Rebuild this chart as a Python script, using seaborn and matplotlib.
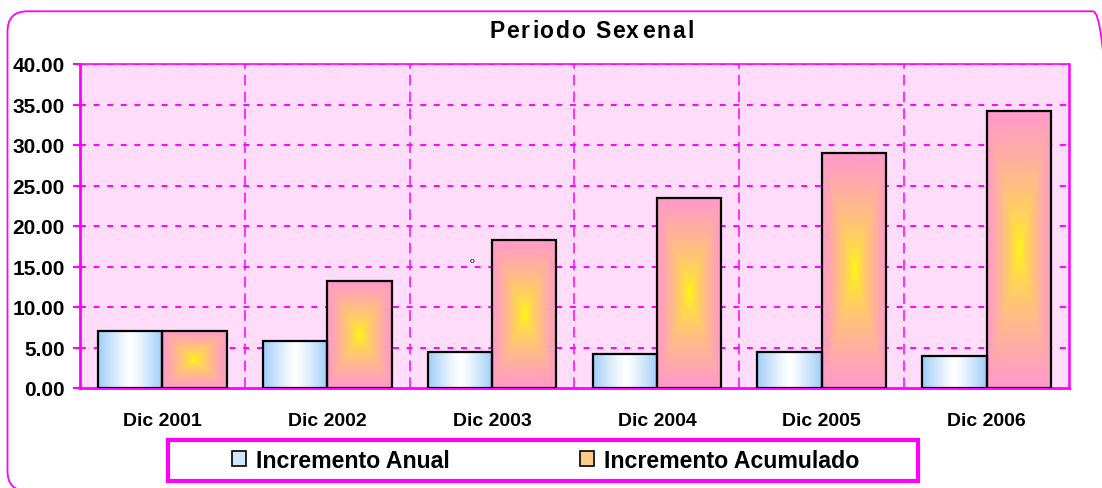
import numpy as np
import pandas as pd
import matplotlib
matplotlib.use("Agg")
import matplotlib.pyplot as plt
import seaborn as sns
from matplotlib.patches import FancyBboxPatch, Patch, Rectangle
from matplotlib.ticker import FixedLocator
from matplotlib.font_manager import FontProperties, findfont
from matplotlib.ft2font import FT2Font

# data
periodos = ["Dic 2001", "Dic 2002", "Dic 2003", "Dic 2004", "Dic 2005", "Dic 2006"]
incremento_anual = [7.05, 5.80, 4.45, 4.20, 4.40, 3.95]
incremento_acumulado = [7.05, 13.25, 18.30, 23.50, 29.05, 34.15]
series = ["Incremento Anual", "Incremento Acumulado"]
y_ticks = [0, 5, 10, 15, 20, 25, 30, 35, 40]
titulo = "Periodo Sexenal"

MAGENTA = "#FF00FF"
BG = "#FFDDFA"
BLUE = np.array([160, 205, 250]) / 255
WHITE = np.array([255, 255, 255]) / 255
PINK = np.array([255, 153, 204]) / 255
YELLOW = np.array([255, 255, 0]) / 255

sns.set_theme(style="white")
plt.rcParams["font.family"] = ["Liberation Sans", "DejaVu Sans"]
plt.rcParams["text.color"] = "black"
plt.rcParams["xtick.color"] = "black"
plt.rcParams["ytick.color"] = "black"

df = pd.DataFrame({
    "Periodo": periodos * 2,
    "Serie": [series[0]] * len(periodos) + [series[1]] * len(periodos),
    "Valor": incremento_anual + incremento_acumulado,
})

W, H = 1102, 489
fig = plt.figure(figsize=(W / 100, H / 100), dpi=100)
ax = fig.add_axes([80 / W, 1 - 389 / H, 989 / W, 324 / H])
ax.set_facecolor(BG)

sns.barplot(data=df, x="Periodo", y="Valor", hue="Serie", hue_order=series,
            palette=["#0000ff", "#ff0000"], width=0.78, gap=0, legend=False,
            edgecolor="black", linewidth=1.6, ax=ax, zorder=3)


def gradient_anual(n=64):
    t = np.linspace(0, 1, n)
    d = np.abs(2 * t - 1) ** 1.2
    row = WHITE[None, :] * (1 - d[:, None]) + BLUE[None, :] * d[:, None]
    return np.tile(row[None, :, :], (4, 1, 1))


def gradient_acum(n=200):
    u = np.linspace(-1, 1, n)
    U, V = np.meshgrid(u, u)
    d = np.maximum(np.abs(U), np.abs(V)) ** 0.6
    return YELLOW * (1 - d[..., None]) + PINK * d[..., None]


for p in ax.patches:
    x0, y0 = p.get_x(), p.get_y()
    w, h = p.get_width(), p.get_height()
    fc = p.get_facecolor()
    img = gradient_anual() if fc[2] > 0.5 else gradient_acum()
    im = ax.imshow(img, extent=[x0, x0 + w, y0, y0 + h], aspect="auto",
                   origin="lower", zorder=2.5, interpolation="bilinear")
    im.set_clip_path(p)
    p.set_facecolor("none")

ax.set_xlim(-0.5, len(periodos) - 0.5)
ax.set_ylim(0, 40)
ax.set_yticks(y_ticks)
ax.set_yticklabels([f"{v:.2f}" for v in y_ticks], fontsize=15, fontweight="bold")
ax.set_xticks(range(len(periodos)))
ax.set_xticklabels(periodos, fontsize=14, fontweight="bold")
ax.xaxis.set_minor_locator(FixedLocator(np.arange(-0.5, len(periodos), 1)))
ax.tick_params(axis="x", which="major", length=0, pad=17)
ax.tick_params(axis="x", which="minor", length=7, color=MAGENTA, width=1.2, direction="out")
ax.tick_params(axis="y", length=5, color=MAGENTA, width=1.5, left=True, pad=6)
ax.set_xlabel("")
ax.set_ylabel("")

for v in y_ticks[1:]:
    ax.axhline(v, color=MAGENTA, lw=1.4, ls=(0, (3, 4)), zorder=1)
for b in np.arange(0.5, len(periodos) - 1, 1):
    ax.axvline(b, color=MAGENTA, lw=1.1, ls=(0, (7, 4)), zorder=1)

for side in ["left", "bottom", "right", "top"]:
    ax.spines[side].set_color(MAGENTA)
    ax.spines[side].set_visible(True)
ax.spines["left"].set_linewidth(2)
ax.spines["bottom"].set_linewidth(2)
ax.spines["right"].set_linewidth(1.8)
ax.spines["top"].set_linewidth(1.2)

ax.text(1.88, 15.8, "o", fontsize=6, ha="center", va="center")

# title drawn letter by letter to get the slight tracking of the original
fp = FontProperties(family="Liberation Sans", weight="bold", size=16.5)
font = FT2Font(findfont(fp))
font.set_size(16.5, 100)
track = 1.9
advs, bears = [], []
for c in titulo:
    g = font.load_char(ord(c))
    advs.append(g.linearHoriAdvance / 65536)
    bears.append(g.horiBearingX / 64)
total = sum(advs) + track * (len(titulo) - 1)
pen = 590 - total / 2
for c, a, bx in zip(titulo, advs, bears):
    if c != " ":
        fig.text((pen + bx) / W, 1 - 32 / H, c, ha="left", va="center", fontproperties=fp)
    pen += a + track

# rounded border around the chart (runs off the right and bottom edges)
border = FancyBboxPatch((0.075, -0.03), 11.055, 4.797,
                        boxstyle="round,pad=0,rounding_size=0.2",
                        transform=fig.dpi_scale_trans, fill=False, edgecolor=MAGENTA,
                        linewidth=1.3, clip_on=False)
fig.patches.append(border)

# legend frame
fig.patches.append(Rectangle((168 / W, 1 - 482 / H), 750 / W, 41 / H, transform=fig.transFigure,
                             fill=False, edgecolor=MAGENTA, linewidth=3))
handles = [Patch(facecolor="#CFE6FF", edgecolor="black", linewidth=1.2),
           Patch(facecolor="#FFCC88", edgecolor="black", linewidth=1.2)]
leg = fig.legend(handles, series, loc="center", bbox_to_anchor=(546 / W, 1 - 461.5 / H),
                 ncol=2, frameon=False, handlelength=0.6, handleheight=0.6,
                 handletextpad=0.45, columnspacing=5.6, borderpad=0.2,
                 prop={"weight": "bold", "size": 16.7})

fig.savefig("out.png", dpi=100)
